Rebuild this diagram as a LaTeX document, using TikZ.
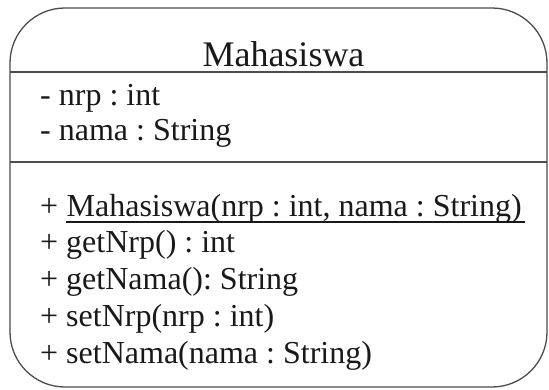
\documentclass[tikz,border=0pt]{standalone}
\usepackage{fontspec}
\setmainfont{Liberation Serif}
\frenchspacing
\begin{document}
\begin{tikzpicture}[x=1pt,y=1pt,
  frame/.style={draw=black!70,line width=1.3pt},
  sep/.style={draw=black!70,line width=1.3pt},
  txt/.style={anchor=base west,inner sep=0pt,font=\fontsize{32}{36}\selectfont\frenchspacing,text=black!90},
  ttl/.style={anchor=base,inner sep=0pt,font=\fontsize{36}{40}\selectfont,text=black!90}]
\useasboundingbox (0,0) rectangle (549,-389);
\draw[frame,rounded corners=55pt] (10,-8) rectangle (547,-387);
\draw[sep] (10,-72) -- (547,-72);
\draw[sep] (10,-162) -- (547,-162);
\node[ttl] (title) at (283.5,-66) {Mahasiswa};
\node[txt] (a1) at (40,-105) {- nrp : int};
\node[txt] (a2) at (40,-140) {- nama : String};
\node[txt] (m0) at (40,-216.5) {+};
\node[txt] (m1) at ([xshift=8pt]m0.base east) {Mahasiswa(nrp : int, nama : String)};
\draw[black!90,line width=1.5pt] ([yshift=-5.5pt]m1.base west) -- ([xshift=3pt,yshift=-5.5pt]m1.base east);
\node[txt] (m2) at (40,-252.5) {+ getNrp() : int};
\node[txt] (m3) at (40,-289.5) {+ getNama(): String};
\node[txt] (m4) at (40,-326.5) {+ setNrp(nrp : int)};
\node[txt] (m5) at (40,-363) {+ setNama(nama : String)};
\end{tikzpicture}
\end{document}
